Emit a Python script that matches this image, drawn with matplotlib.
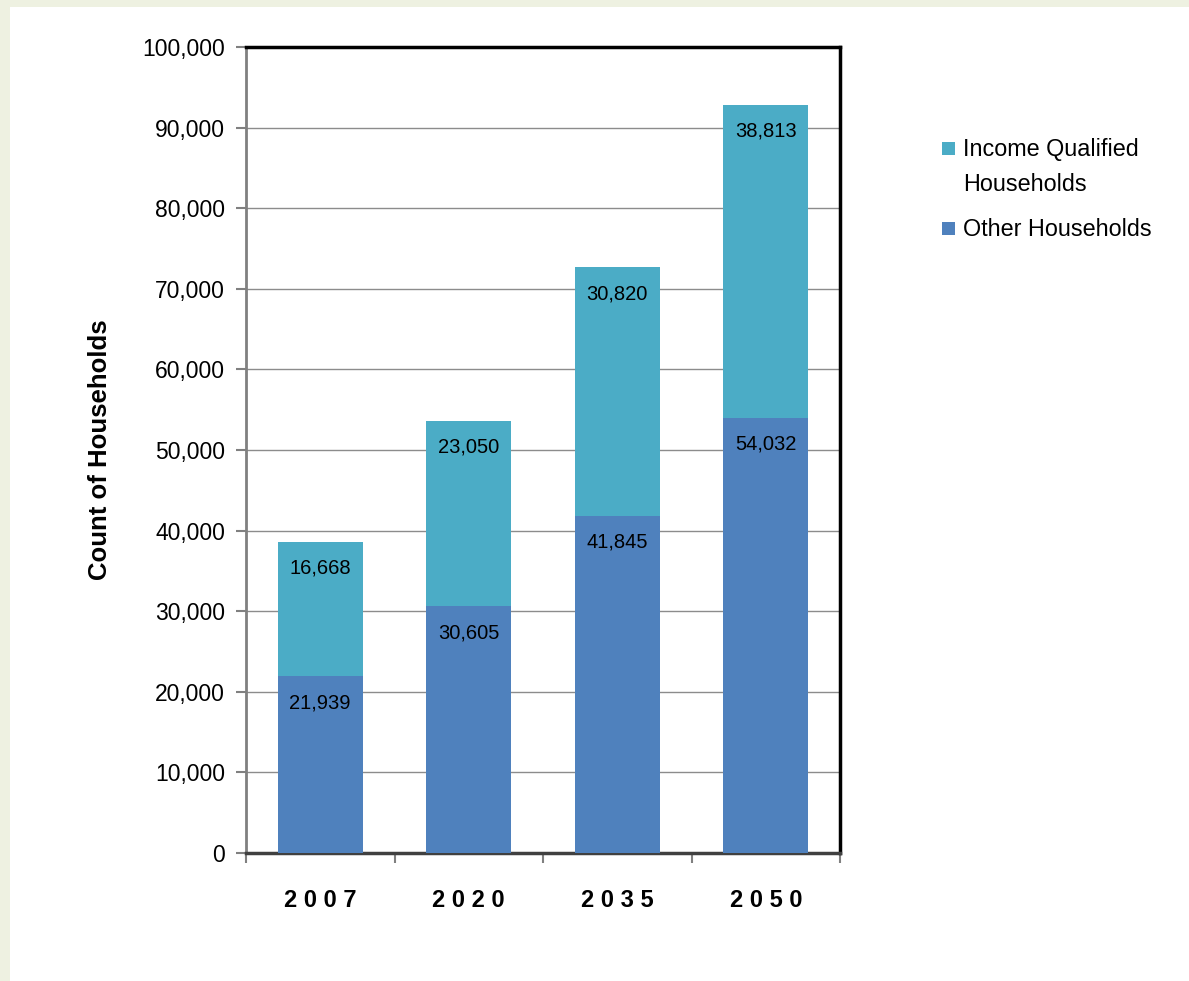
import matplotlib.pyplot as plt
from matplotlib.patches import Rectangle
from matplotlib.ticker import FuncFormatter, MultipleLocator
import numpy as np

plt.rcParams['font.family'] = ['Liberation Sans', 'DejaVu Sans']

years = ['2007', '2020', '2035', '2050']
other = [21939, 30605, 41845, 54032]
income = [16668, 23050, 30820, 38813]

c_other = '#4F81BD'
c_income = '#4BACC6'

W, H = 1189, 981
fig = plt.figure(figsize=(W/100, H/100), dpi=100)
fig.patch.set_facecolor('#EEF1E1')
# white panel inside the pale border
fig.patches.append(Rectangle((10/W, 0), 1, 1 - 7/H, transform=fig.transFigure,
                             facecolor='white', edgecolor='none', zorder=-5))

ax = fig.add_axes([246/W, 1 - 853/H, 594/W, 806/H])
ax.set_facecolor('white')

x = np.arange(len(years))
w = 0.57
b1 = ax.bar(x, other, w, color=c_other, zorder=3)
b2 = ax.bar(x, income, w, bottom=other, color=c_income, zorder=3)

tops_o = np.array(other)
tops_i = np.array(other) + np.array(income)
for i in range(len(years)):
    ax.annotate(f'{other[i]:,}', (x[i], tops_o[i]), xytext=(0, -19),
                textcoords='offset points', ha='center', va='center', fontsize=14.5, zorder=4)
    ax.annotate(f'{income[i]:,}', (x[i], tops_i[i]), xytext=(0, -19),
                textcoords='offset points', ha='center', va='center', fontsize=14.5, zorder=4)

ax.set_xlim(-0.5, 3.5)
ax.set_ylim(0, 100000)
ax.yaxis.set_major_locator(MultipleLocator(10000))
ax.yaxis.set_major_formatter(FuncFormatter(lambda v, p: f'{int(v):,}'))
ax.grid(axis='y', color='#8C8C8C', lw=1, zorder=1)

ax.set_xticks(x)
ax.set_xticklabels([' '.join(y) for y in years], fontsize=17, fontweight='bold')
ax.tick_params(axis='x', length=0, pad=26)
ax.set_xticks(np.arange(-0.5, 4, 1), minor=True)
ax.tick_params(axis='x', which='minor', length=7, color='#808080', width=1.5, direction='out')
ax.tick_params(axis='y', length=7, color='#808080', width=1.5, labelsize=16.5, pad=8)

ax.spines['top'].set_color('black')
ax.spines['right'].set_color('black')
ax.spines['top'].set_linewidth(2.5)
ax.spines['right'].set_linewidth(2.5)
ax.spines['left'].set_color('#808080')
ax.spines['left'].set_linewidth(2)
ax.spines['bottom'].set_color('#404040')
ax.spines['bottom'].set_linewidth(2.5)

ax.set_ylabel('Count of Households', fontsize=18.5, fontweight='bold', labelpad=22)

# legend drawn by hand so the swatch sits on the first line of the wrapped label
legend_items = [(c_income, 'Income Qualified\nHouseholds', 148),
                (c_other, 'Other Households', 228)]
for col, lab, ypix in legend_items:
    fig.patches.append(Rectangle((942/W, 1 - (ypix + 7)/H), 13/W, 13/H,
                                 transform=fig.transFigure, facecolor=col, edgecolor='none'))
    fig.text(963/W, 1 - (ypix - 10)/H, lab, fontsize=16.8, ha='left', va='top',
             linespacing=1.68)

fig.savefig('out.png', dpi=100, facecolor=fig.get_facecolor())
